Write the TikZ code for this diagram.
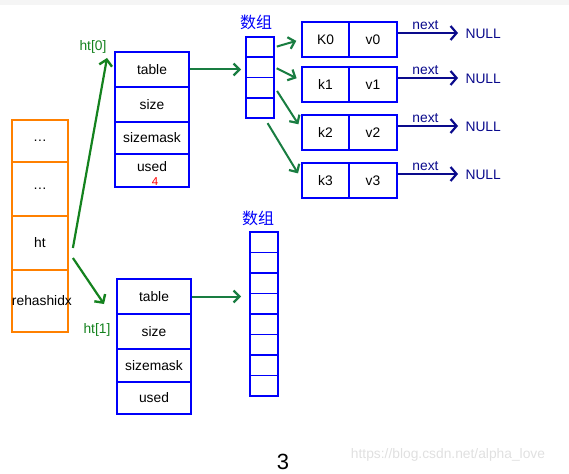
\documentclass[tikz,border=0pt]{standalone}
\usepackage{fontspec}
\setmainfont{Liberation Sans}
\newfontfamily\cjkfont{Noto Sans CJK SC}
\usetikzlibrary{arrows.meta,positioning}
\definecolor{dictblue}{RGB}{0,0,250}
\definecolor{navyline}{RGB}{10,10,140}
\definecolor{arrgreen}{RGB}{25,125,65}
\definecolor{htgreen}{RGB}{20,130,30}
\definecolor{slotorange}{RGB}{255,128,0}
\newcommand{\txtsize}{\fontsize{13.8}{16}\selectfont}

\begin{document}
\begin{tikzpicture}[
    x=1pt, y=-1pt,
    every node/.style={font=\txtsize},
    cellbox/.style={draw=dictblue, line width=1.8pt, inner sep=0pt},
    slotbox/.style={draw=slotorange, line width=1.8pt, inner sep=0pt, text width=56pt, align=center},
    greenarrow/.style={draw=arrgreen, line width=2pt, -{Straight Barb[length=6pt,width=12pt,line width=2.2pt]}},
    htarrow/.style={draw=htgreen, line width=2.2pt, -{Straight Barb[length=6pt,width=13pt,line width=2.4pt]}},
    nextarrow/.style={draw=navyline, line width=1.8pt, -{Straight Barb[length=6pt,width=14pt,line width=2.2pt]}},
    arrlabel/.style={text=dictblue, font=\cjkfont\fontsize{16}{18}\selectfont},
    ]
  \useasboundingbox (0,0) rectangle (569,473);
  \fill[black!4] (0,0) rectangle (569,5);

  % dict: the orange column
  \foreach \name/\txt/\top/\bot in {d1/\dots/120/162, d2/\dots/162/216, ht/ht/216/270, rehash/rehashidx/270/332}
    \node[slotbox, minimum height={(\bot-\top)*1pt}] (\name) at (40,{(\top+\bot)/2}) {\txt};

  % ht[0] and ht[1]
  \foreach \name/\txt/\top/\bot in {table/table/52/87, size/size/87/122, mask/sizemask/122/154}
    \node[cellbox, minimum width=74pt, minimum height={(\bot-\top)*1pt}] (t0\name) at (152,{(\top+\bot)/2}) {\txt};
  \node[cellbox, minimum width=74pt, minimum height=33pt, text depth=8pt] (t0used) at (152,170.5) {used};
  \foreach \name/\txt/\top/\bot in {table/table/279/314, size/size/314/349, mask/sizemask/349/382, used/used/382/414}
    \node[cellbox, minimum width=74pt, minimum height={(\bot-\top)*1pt}] (t1\name) at (154,{(\top+\bot)/2}) {\txt};
  \node[text=red, font=\fontsize{11.5}{13}\selectfont] (usedval) at (155,181.5) {4};

  \node[text=htgreen] (ht0lbl) at (93,47) {ht[0]};
  \node[text=htgreen] (ht1lbl) at (97,330) {ht[1]};
  \coordinate (ht0tip) at (107,58);
  \coordinate (ht1tip) at (104,304);
  \draw[htarrow] ([xshift=4pt,yshift=-5pt]ht.east) -- (ht0tip);
  \draw[htarrow] ([xshift=4pt,yshift=-15pt]ht.east) -- (ht1tip);

  % bucket arrays
  \foreach \i in {0,...,3}
    \node[cellbox, minimum width=28pt, minimum height=20.25pt] (a0-\i) at (260,{37+20.25*\i+10.125}) {};
  \foreach \i in {0,...,7}
    \node[cellbox, minimum width=28pt, minimum height=20.5pt] (a1-\i) at (264,{232+20.5*\i+10.25}) {};
  \node[arrlabel, above=3pt of a0-0, xshift=-4pt] (arr0lbl) {数组};
  \node[arrlabel, above=2pt of a1-0, xshift=-6pt] (arr1lbl) {数组};

  \draw[greenarrow, shorten >=4pt] (t0table.east) -- (t0table.east -| a0-1.west);
  \draw[greenarrow, shorten >=8pt] (t1table.east) -- (t1table.east -| a1-0.west);

  % entries
  \foreach \i/\k/\v/\top in {0/K0/v0/22, 1/k1/v1/67, 2/k2/v2/115, 3/k3/v3/163} {
    \node[cellbox, minimum width=47pt, minimum height=35pt] (key\i) at (325.5,{\top+17.5}) {\k};
    \node[cellbox, minimum width=48pt, minimum height=35pt] (val\i) at (373,{\top+17.5}) {\v};
    \node[text=navyline, anchor=west] (null\i) at (462,{\top+12}) {NULL};
    \draw[nextarrow, shorten >=4pt] ([yshift=6.5pt]val\i.east) -- ([yshift=1pt]null\i.west)
      node[pos=0.43, above, text=navyline, yshift=-1pt] (next\i) {next};
  }

  \draw[greenarrow, shorten <=2pt, shorten >=5pt] (a0-0.east) -- (key0.west);
  \draw[greenarrow, shorten <=2pt, shorten >=5pt] (a0-1.east) -- ([yshift=4pt]key1.west);
  \draw[greenarrow, shorten <=4pt, shorten >=5pt] (a0-2.east) -- ([yshift=4pt]key2.west);
  \draw[greenarrow, shorten <=5pt, shorten >=6pt] ([xshift=5pt]a0-3.south) -- ([yshift=2pt]key3.west);

  \node[font=\fontsize{22}{24}\selectfont] (pagenum) at (283,462) {3};
  \node[text=black!12] (mark) at (448,455) {https://blog.csdn.net/alpha\_love};
\end{tikzpicture}
\end{document}
